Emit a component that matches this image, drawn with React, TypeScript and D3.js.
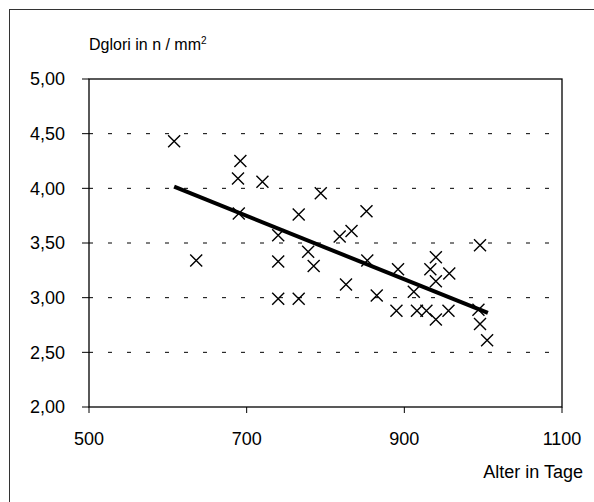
import React from 'react';
import * as d3 from 'd3';

// Alter (Tage) vs. Dglori (n / mm²)
const alter = [
  608, 636, 689, 692, 690, 720, 740, 740, 740, 766, 766, 778, 785, 794, 818, 833, 826, 852,
  853, 865, 890, 892, 912, 916, 928, 933, 940, 940, 940, 957, 956, 996, 994, 996, 1005,
];
const dglori = [
  4.43, 3.34, 4.09, 4.25, 3.77, 4.06, 3.57, 3.33, 2.99, 3.76, 2.99, 3.42, 3.29, 3.955, 3.56, 3.61, 3.12, 3.79,
  3.34, 3.02, 2.88, 3.26, 3.055, 2.88, 2.88, 3.26, 3.37, 3.15, 2.80, 3.22, 2.88, 3.48, 2.89, 2.76, 2.61,
];
const trendX = [608, 1006];
const trendY = [4.015, 2.86];
const xTicks = [500, 700, 900, 1100];
const yTicks = [2.0, 2.5, 3.0, 3.5, 4.0, 4.5, 5.0];

const W = 594;
const H = 502;
const plot = { left: 89, right: 562, top: 79, bottom: 407 };
const font = '"Liberation Sans", Arial, sans-serif';

export default function App() {
  const x = d3.scaleLinear().domain([500, 1100]).range([plot.left, plot.right]);
  const y = d3.scaleLinear().domain([2, 5]).range([plot.bottom, plot.top]);
  const fmt = (v: number) => v.toFixed(2).replace('.', ',');
  const points = alter.map((a, i) => ({ x: a, y: dglori[i] }));
  const trend = d3.line<number>().x((d) => x(d)).y((d, i) => y(trendY[i]));
  const s = 6;

  return (
    <svg width={W} height={H} style={{ position: 'absolute', left: 0, top: 0, background: '#fff' }}>
      <rect x={9.5} y={9.5} width={W + 10} height={H + 10} fill="#fff" stroke="#333" strokeWidth={1} />

      {/* gridlines */}
      {yTicks.filter((t) => t > 2 && t < 5).map((t) => (
        <line key={'g' + t} x1={plot.left} x2={plot.right} y1={y(t)} y2={y(t)}
          stroke="#000" strokeWidth={1} strokeDasharray="4,15" />
      ))}

      {/* plot frame */}
      <rect x={plot.left} y={plot.top} width={plot.right - plot.left} height={plot.bottom - plot.top}
        fill="none" stroke="#000" strokeWidth={1.3} />

      {/* y axis ticks + labels */}
      {yTicks.map((t) => (
        <g key={'y' + t}>
          <line x1={plot.left - 7} x2={plot.left} y1={y(t)} y2={y(t)} stroke="#000" strokeWidth={1} />
          <text x={plot.left - 24} y={y(t)} dy="0.35em" textAnchor="end" fontFamily={font} fontSize={18} fill="#000">
            {fmt(t)}
          </text>
        </g>
      ))}

      {/* x axis ticks + labels */}
      {xTicks.map((t) => (
        <g key={'x' + t}>
          <line x1={x(t)} x2={x(t)} y1={plot.bottom} y2={plot.bottom + 6} stroke="#000" strokeWidth={1} />
          <text x={x(t)} y={plot.bottom + 38} textAnchor="middle" fontFamily={font} fontSize={18} fill="#000">
            {t}
          </text>
        </g>
      ))}

      {/* data crosses */}
      {points.map((p, i) => (
        <path key={'p' + i}
          d={`M${x(p.x) - s},${y(p.y) - s}L${x(p.x) + s},${y(p.y) + s}M${x(p.x) - s},${y(p.y) + s}L${x(p.x) + s},${y(p.y) - s}`}
          stroke="#000" strokeWidth={1.4} fill="none" />
      ))}

      {/* trend line */}
      <path d={trend(trendX) ?? ''} stroke="#000" strokeWidth={4} fill="none" />

      {/* axis titles */}
      <text x={plot.left} y={50} fontFamily={font} fontSize={16} fill="#000">
        Dglori in n / mm<tspan fontSize={10} dy={-6}>2</tspan>
      </text>
      <text x={583} y={478} textAnchor="end" fontFamily={font} fontSize={18} fill="#000">
        Alter in Tage
      </text>
    </svg>
  );
}
